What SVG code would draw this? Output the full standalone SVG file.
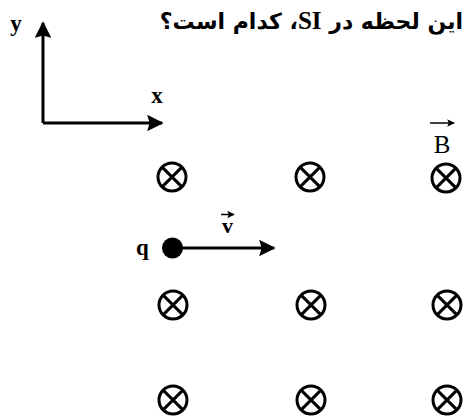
<svg xmlns="http://www.w3.org/2000/svg" width="467" height="417" viewBox="0 0 467 417">
  <defs>
    <style>
      .lbl { font-family: 'Liberation Serif', 'Times New Roman', serif; fill: #000; }
      .b { font-weight: bold; }
      .fa { font-family: 'DejaVu Sans', sans-serif; font-weight: bold; fill: #000; }
      .ln { stroke: #000; stroke-width: 3; fill: none; }
      .thin { stroke: #000; stroke-width: 1.5; fill: none; }
      .bx { stroke: #000; stroke-width: 3; fill: #fff; }
    </style>
    <marker id="ah" viewBox="0 0 10 10" refX="9" refY="5" markerWidth="5.5" markerHeight="5.5" markerUnits="strokeWidth" orient="auto">
      <path d="M0,0 L10,5 L0,10 L1.5,5 Z" fill="#000"/>
    </marker>
    <marker id="ahs" viewBox="0 0 10 10" refX="9" refY="5" markerWidth="5" markerHeight="5" markerUnits="strokeWidth" orient="auto">
      <path d="M0,0 L10,5 L0,10 L2,5 Z" fill="#000"/>
    </marker>
    <g id="cross">
      <circle cx="0" cy="0" r="14" class="bx"/>
      <path d="M-9.9,-9.9 L9.9,9.9 M9.9,-9.9 L-9.9,9.9" stroke="#000" stroke-width="3"/>
    </g>
  </defs>
  <rect width="467" height="417" fill="#fff"/>

  <g id="title">
    <text x="463" y="29" class="fa" font-size="22" direction="rtl" text-anchor="start">این لحظه در <tspan class="lbl b" font-size="25">SI</tspan>، کدام است؟</text>
  </g>

  <g id="connectors">
    <line x1="43" y1="123" x2="43" y2="23" class="ln" marker-end="url(#ah)"/>
    <line x1="43" y1="123" x2="162" y2="123" class="ln" marker-end="url(#ah)"/>
    <line x1="172" y1="248" x2="274" y2="248" class="ln" marker-end="url(#ah)"/>
  </g>

  <g id="axis-labels">
    <text x="16" y="31" class="lbl b" font-size="23" text-anchor="middle">y</text>
    <text x="157" y="103" class="lbl b" font-size="23" text-anchor="middle">x</text>
  </g>

  <g id="charge">
    <circle cx="172.5" cy="248" r="10.5" fill="#000"/>
    <text x="142.5" y="255" class="lbl b" font-size="23" text-anchor="middle">q</text>
    <text x="227.5" y="233" class="lbl b" font-size="22" text-anchor="middle">v</text>
    <line x1="221" y1="214.5" x2="234" y2="214.5" class="thin" marker-end="url(#ahs)"/>
  </g>

  <g id="field-label">
    <text x="442" y="153" class="lbl" font-size="25" text-anchor="middle">B</text>
    <line x1="430" y1="123" x2="454" y2="123" class="thin" marker-end="url(#ahs)"/>
  </g>

  <g id="field">
    <use href="#cross" x="172" y="177"/>
    <use href="#cross" x="310" y="177"/>
    <use href="#cross" x="446" y="178"/>
    <use href="#cross" x="173" y="305"/>
    <use href="#cross" x="311" y="305"/>
    <use href="#cross" x="447" y="305"/>
    <use href="#cross" x="173" y="400"/>
    <use href="#cross" x="311" y="400"/>
    <use href="#cross" x="447" y="400"/>
  </g>
</svg>
